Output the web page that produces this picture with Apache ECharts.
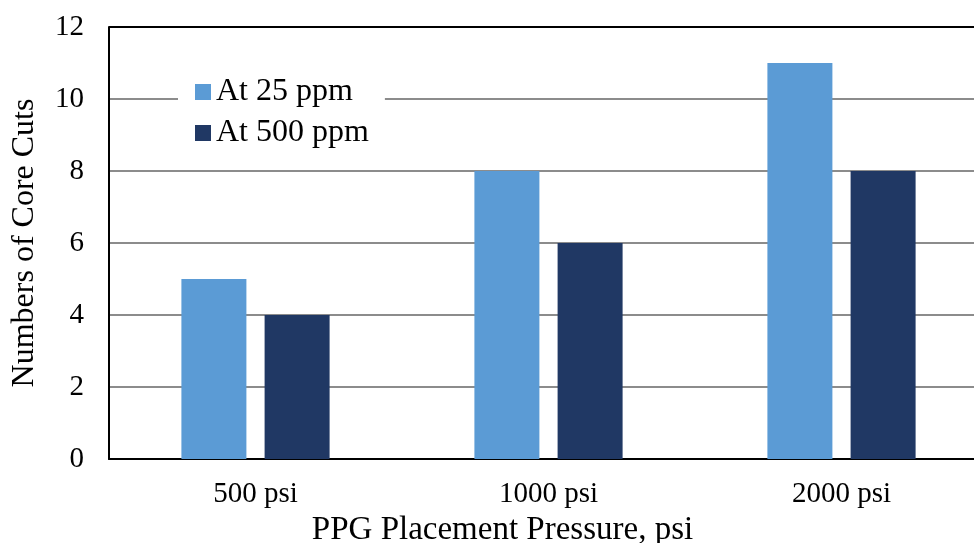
<!DOCTYPE html>
<html>
<head>
<meta charset="utf-8">
<script src="https://cdn.jsdelivr.net/npm/echarts@6/dist/echarts.min.js"></script>
<style>
  html, body { margin: 0; padding: 0; background: #fff; }
  #chart { width: 974px; height: 543px; }
</style>
</head>
<body>
<div id="chart"></div>
<script>
// Core cut counts by PPG placement pressure
const categories = ['500 psi', '1000 psi', '2000 psi'];
const seriesNames = ['At 25 ppm', 'At 500 ppm'];
const cuts25ppm = [5, 8, 11];
const cuts500ppm = [4, 6, 8];
const yTicks = [0, 2, 4, 6, 8, 10, 12];

const font = '"Liberation Serif", "Times New Roman", serif';
const chart = echarts.init(document.getElementById('chart'));

// top gridline drawn black, inner gridlines gray
const splitColors = yTicks.map((v, i) => (i === yTicks.length - 1 ? '#000000' : (i === 0 ? 'rgba(0,0,0,0)' : '#8c8c8c')));

chart.setOption({
  animation: false,
  backgroundColor: '#ffffff',
  textStyle: { fontFamily: font },
  grid: { left: 109, right: -14, top: 27, bottom: 84, containLabel: false, outerBoundsMode: 'none' },
  legend: {
    orient: 'vertical',
    left: 178,
    top: 72,
    padding: [4, 16, 4, 17],
    backgroundColor: '#ffffff',
    itemWidth: 16,
    itemHeight: 16,
    itemGap: 9,
    icon: 'rect',
    textStyle: { fontFamily: font, fontSize: 32, color: '#000' },
    data: seriesNames
  },
  xAxis: {
    type: 'category',
    data: categories,
    name: 'PPG Placement Pressure, psi',
    nameLocation: 'middle',
    nameGap: 52,
    nameTextStyle: { fontFamily: font, fontSize: 33, color: '#000', padding: [0, 92, 0, 0] },
    axisLine: { lineStyle: { color: '#000', width: 2 } },
    axisTick: { show: false },
    axisLabel: { fontFamily: font, fontSize: 29, color: '#000', margin: 21 }
  },
  yAxis: {
    type: 'value',
    min: yTicks[0],
    max: yTicks[yTicks.length - 1],
    interval: 2,
    name: 'Numbers of Core Cuts',
    nameLocation: 'middle',
    nameGap: 68,
    nameTextStyle: { fontFamily: font, fontSize: 32, color: '#000' },
    axisLine: { show: true, lineStyle: { color: '#000', width: 2 } },
    axisTick: { show: false },
    axisLabel: { fontFamily: font, fontSize: 29, color: '#000', margin: 25 },
    splitLine: { show: true, lineStyle: { color: splitColors, width: 2 } }
  },
  series: [
    {
      name: seriesNames[0],
      type: 'bar',
      data: cuts25ppm,
      barWidth: 65,
      barGap: '28%',
      itemStyle: { color: '#5b9bd5' }
    },
    {
      name: seriesNames[1],
      type: 'bar',
      data: cuts500ppm,
      barWidth: 65,
      itemStyle: { color: '#203864' }
    }
  ]
});
</script>
</body>
</html>
